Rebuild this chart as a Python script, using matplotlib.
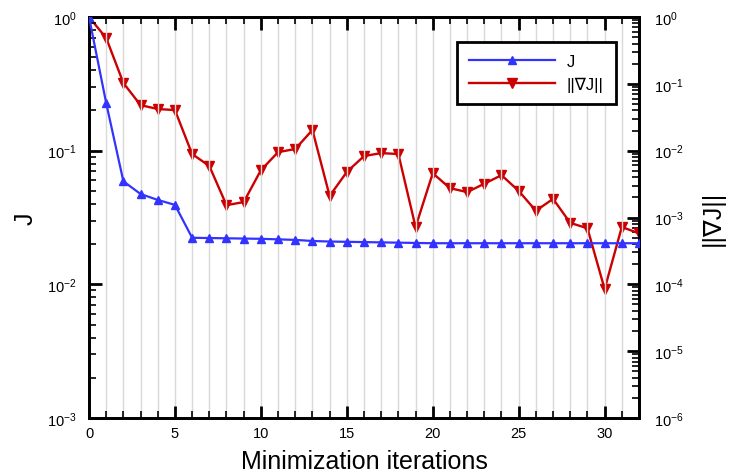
import numpy as np
import matplotlib
matplotlib.use('Agg')
import matplotlib.pyplot as plt
from matplotlib.ticker import LogLocator, MultipleLocator, NullFormatter

plt.rcParams['font.family'] = ['Liberation Sans', 'DejaVu Sans']
plt.rcParams['mathtext.fontset'] = 'custom'
plt.rcParams['mathtext.rm'] = 'Liberation Sans'
plt.rcParams['mathtext.default'] = 'regular'

# Convergence history
iters = np.arange(33)
J = [1.0, 0.227, 0.059, 0.0474, 0.0428, 0.0393, 0.0223, 0.0222, 0.0221, 0.0220,
     0.0219, 0.0217, 0.0215, 0.0211, 0.0209, 0.0208, 0.0207, 0.0206, 0.0205, 0.0204,
     0.0203, 0.0203, 0.0203, 0.0203, 0.0203, 0.0203, 0.0203, 0.0203, 0.0203, 0.0203,
     0.0203, 0.0203, 0.0203]
gradJ = [1.0, 0.485, 0.103, 0.048, 0.042, 0.0405, 0.0089, 0.0059, 0.00153, 0.0017,
         0.0051, 0.0095, 0.0106, 0.0204, 0.0021, 0.0048, 0.0083, 0.0092, 0.0089, 0.00072,
         0.0046, 0.00275, 0.0024, 0.0032, 0.0043, 0.0025, 0.00126, 0.0019, 0.00083, 0.00069,
         0.000085, 0.00072, 0.00058]

blue = '#3333ff'
red = '#cc0000'

fig = plt.figure(1, (7.34, 4.77), dpi=100)
ax = fig.add_axes([89/734, 1-419/477, 550/734, 401/477])
ax2 = ax.twinx()

# vertical grid at each iteration
for xi in iters[1:-1]:
	ax.axvline(xi, color='#d9d9d9', lw=1.0, zorder=0)

lJ, = ax.plot(iters, J, '-^', color=blue, lw=1.6, ms=6.3, label='J', zorder=3)
lG, = ax2.plot(iters, gradJ, '-v', color=red, lw=1.7, ms=6.5, label='||∇J||', zorder=3)

ax.set_xlim(0, 32)
ax.set_yscale('log')
ax.set_ylim(1e-3, 1e0)
ax2.set_yscale('log')
ax2.set_ylim(1e-6, 1e0)

ax.xaxis.set_major_locator(MultipleLocator(5))
ax.xaxis.set_minor_locator(MultipleLocator(1))
for a in (ax, ax2):
	a.yaxis.set_major_locator(LogLocator(base=10, numticks=10))
	a.yaxis.set_minor_locator(LogLocator(base=10, subs=np.arange(2, 10), numticks=10))
	a.yaxis.set_minor_formatter(NullFormatter())
	for s in a.spines.values():
		s.set_linewidth(2.0)
ax.tick_params(which='both', direction='in', top=True, labelsize=10.5, width=1.2)
ax.tick_params(which='major', length=9, width=2)
ax.tick_params(which='minor', length=5)
ax2.tick_params(which='both', direction='in', labelsize=10.5, width=1.2)
ax2.tick_params(which='major', length=9, width=2)
ax2.tick_params(which='minor', length=5)
ax.tick_params(axis='x', pad=6)
ax.tick_params(axis='y', which='major', pad=9)
ax2.tick_params(axis='y', which='major', pad=11)
ax2.xaxis.label.set_visible(False)

ax.set_xlabel('Minimization iterations', fontsize=18, labelpad=6)
ax.set_ylabel('J', fontsize=18, labelpad=7)
ax2.set_ylabel('||∇J||', fontsize=18, labelpad=12)

ax.set_zorder(ax2.get_zorder() + 1)
ax.patch.set_visible(False)

leg = ax.legend([lJ, lG], ['J', '||∇J||'], loc='upper left',
	bbox_to_anchor=(457/734, 1-43/477), bbox_transform=fig.transFigure,
	fontsize=12, handlelength=5.2, handletextpad=0.7, borderpad=0.7,
	labelspacing=0.5, fancybox=False, framealpha=1, edgecolor='k', borderaxespad=0)
leg.get_frame().set_linewidth(2.0)

plt.savefig('out.png', dpi=100)
